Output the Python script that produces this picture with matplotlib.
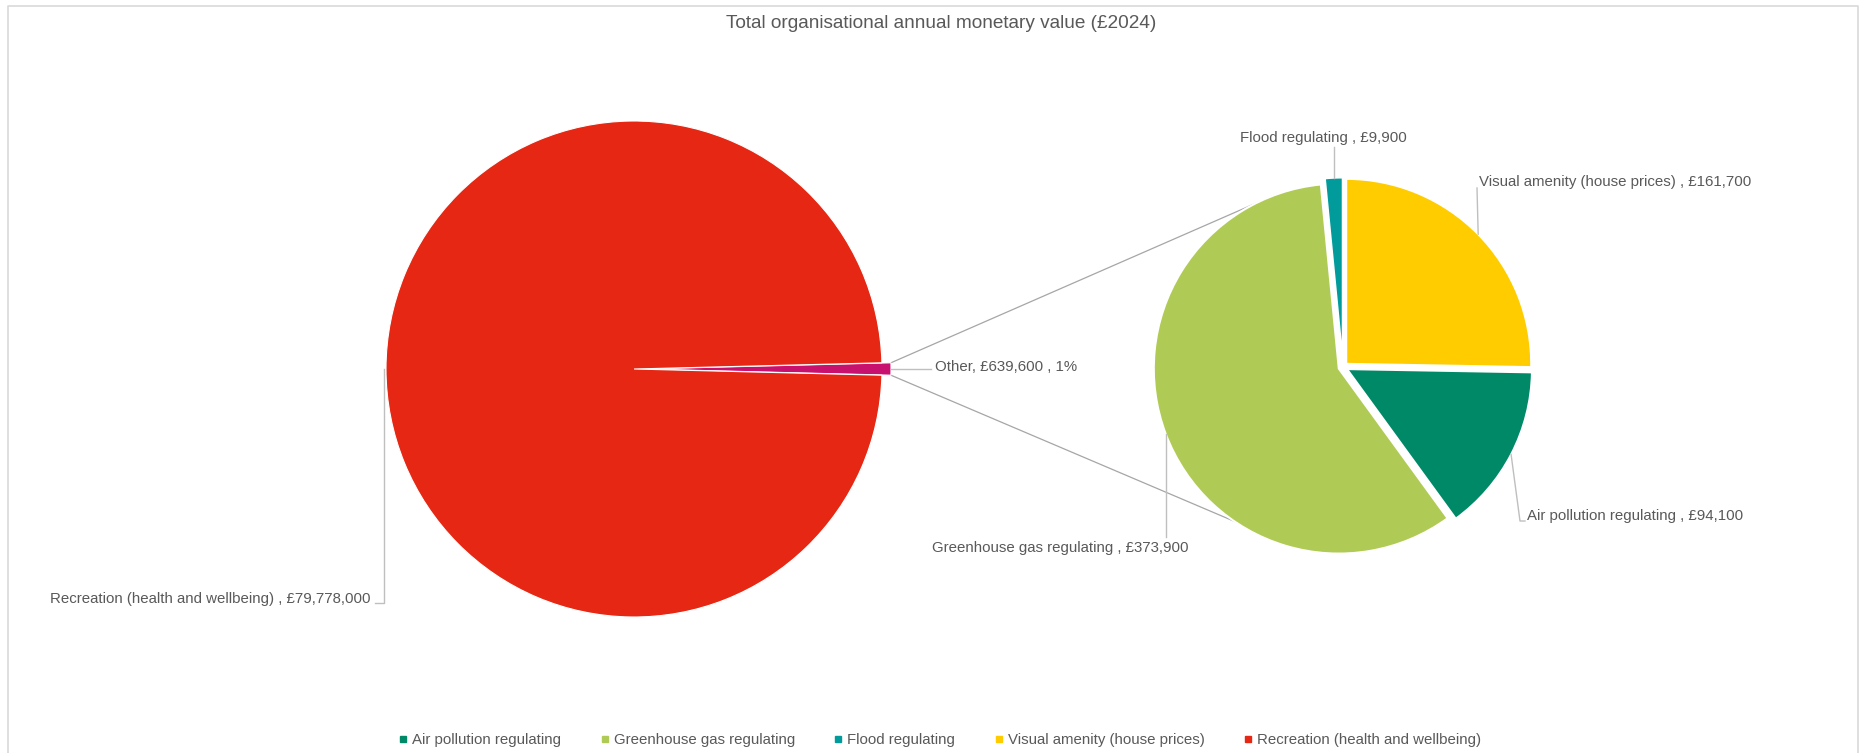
import numpy as np
import matplotlib
matplotlib.use("Agg")
import matplotlib.pyplot as plt
from matplotlib.lines import Line2D

plt.rcParams["font.family"] = ["Liberation Sans", "DejaVu Sans"]

# data
main_name = "Recreation (health and wellbeing)"
main_value = 79778000
other_names = ["Flood regulating", "Visual amenity (house prices)",
               "Air pollution regulating", "Greenhouse gas regulating"]
other_values = [9900, 161700, 94100, 373900]
legend_order = ["Air pollution regulating", "Greenhouse gas regulating",
                "Flood regulating", "Visual amenity (house prices)",
                "Recreation (health and wellbeing)"]
colors = {"Air pollution regulating": "#008967",
          "Greenhouse gas regulating": "#B0CB55",
          "Flood regulating": "#009B9A",
          "Visual amenity (house prices)": "#FFCC00",
          "Recreation (health and wellbeing)": "#E52713"}
other_color = "#C8106E"

W, H = 1866, 753
txt_col = "#595959"
lead_col = "#BFBFBF"
fs = 10.8

fig = plt.figure(figsize=(W / 100, H / 100), dpi=100)
ax = fig.add_axes([0, 0, 1, 1])

def py(y):  # pixel row -> data y
    return H - y

# chart frame (bottom edge falls outside the picture)
ax.plot([8, 8, W - 8, W - 8], [-5, py(6), py(6), -5], color="#D9D9D9", lw=1.2, zorder=0)

fig.text(941 / W, 1 - 24 / H, "Total organisational annual monetary value (£2024)",
         ha="center", va="center", fontsize=13.7, color=txt_col)

# primary pie: Other + Recreation
other_total = sum(other_values)
grand = other_total + main_value
other_ang = 360.0 * other_total / grand
c1, r1 = (634, py(369)), 248
w1, _ = ax.pie([other_total, main_value], colors=[other_color, colors[main_name]],
               startangle=-other_ang / 2, counterclock=True, explode=[9, 0],
               center=c1, radius=r1, frame=True,
               wedgeprops=dict(edgecolor="white", linewidth=0.8))

# secondary pie
c2, r2 = (1343, py(367)), 185
start2 = 90 + 360.0 * other_values[0] / other_total
w2, _ = ax.pie(other_values, colors=[colors[n] for n in other_names],
               startangle=start2, counterclock=False, explode=[4.5] * 4,
               center=c2, radius=r2, frame=True,
               wedgeprops=dict(edgecolor="white", linewidth=1.5))
ax.set_xlim(0, W)
ax.set_ylim(0, H)
ax.set_aspect("equal")
ax.axis("off")

def anchor(w):
    th = np.deg2rad((w.theta1 + w.theta2) / 2)
    return (w.center[0] + w.r * np.cos(th), w.center[1] + w.r * np.sin(th))

# connector lines
wo = w1[0]
for th_o, th_s in [(wo.theta2, 112), (wo.theta1, 243)]:
    x0 = wo.center[0] + wo.r * np.cos(np.deg2rad(th_o))
    y0 = wo.center[1] + wo.r * np.sin(np.deg2rad(th_o))
    x1 = c2[0] + r2 * np.cos(np.deg2rad(th_s))
    y1 = c2[1] + r2 * np.sin(np.deg2rad(th_s))
    ax.plot([x0, x1], [y0, y1], color="#A6A6A6", lw=0.9, zorder=0)

def label(text, x, y, ha):
    ax.text(x, py(y), text, ha=ha, va="center", fontsize=fs, color=txt_col)

# Recreation label
ax_, ay_ = anchor(w1[1])
label(f"{main_name} , £{main_value:,}", 371, 599, "right")
ax.plot([375, ax_ - 2, ax_ - 2], [py(603), py(603), ay_], color=lead_col, lw=1)

# Other label
ax_, ay_ = anchor(wo)
pct = round(100 * other_total / grand)
label(f"Other, £{other_total:,} , {pct}%", 935, 367, "left")
ax.plot([ax_, 931], [ay_, py(369)], color=lead_col, lw=1)

# secondary labels
ax_, ay_ = anchor(w2[0])
label(f"{other_names[0]} , £{other_values[0]:,}", 1323, 138, "center")
ax.plot([ax_, ax_], [py(147), ay_], color=lead_col, lw=1)

ax_, ay_ = anchor(w2[1])
label(f"{other_names[1]} , £{other_values[1]:,}", 1479, 182, "left")
ax.plot([1477, ax_], [py(188), ay_], color=lead_col, lw=1)

ax_, ay_ = anchor(w2[2])
label(f"{other_names[2]} , £{other_values[2]:,}", 1527, 516, "left")
ax.plot([1525, 1520, ax_], [py(521), py(521), ay_], color=lead_col, lw=1)

ax_, ay_ = anchor(w2[3])
label(f"{other_names[3]} , £{other_values[3]:,}", 1188, 548, "right")
ax.plot([ax_, ax_], [py(537), ay_], color=lead_col, lw=1)

handles = [Line2D([], [], marker="s", ls="", color=colors[n], markersize=5) for n in legend_order]
fig.legend(handles, legend_order, loc="center", bbox_to_anchor=(940 / W, 1 - 740 / H),
           ncol=5, frameon=False, fontsize=fs, labelcolor=txt_col,
           handlelength=0.6, handletextpad=0.3, columnspacing=2.6)

fig.savefig("out.png", dpi=100)
